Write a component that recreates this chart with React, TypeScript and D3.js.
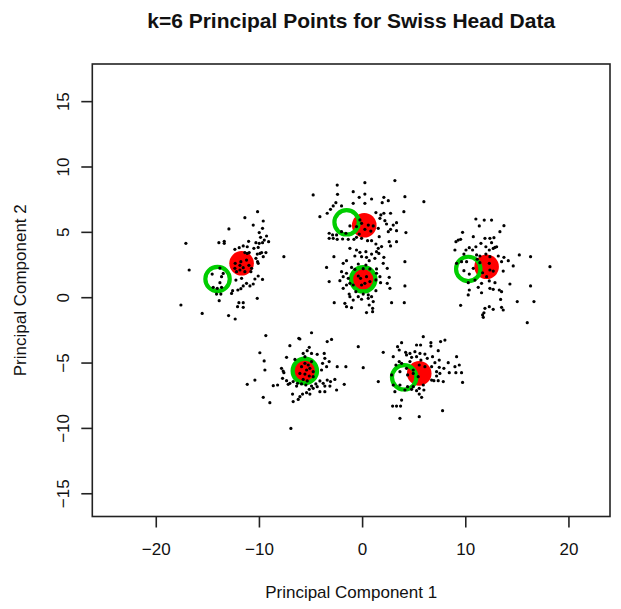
import React from "react";
import * as d3 from "d3";

const title = "k=6 Principal Points for Swiss Head Data";
const xLabel = "Principal Component 1";
const yLabel = "Principal Component 2";
const xTicks = [-20, -10, 0, 10, 20];
const yTicks = [-15, -10, -5, 0, 5, 10, 15];

// principal points (filled red) and comparison points (green rings)
const redX = [-11.73, 0.16, 0.16, 12.02, -5.5, 5.49];
const redY = [2.63, 5.54, 1.35, 2.37, -5.66, -5.79];
const greenX = [-14.06, -1.55, 0.06, 10.24, -5.6, 4.03];
const greenY = [1.43, 5.77, 1.41, 2.2, -5.6, -6.09];

const clusterLeft: [number, number][] = [
  [-10.18,6.58],[-11.41,6.12],[-9.63,5.87],[-10.6,5.56],[-9.7,5.31],[-12.96,5.26],[-10.02,4.98],[-9.31,4.72],[-9.89,4.62],[-9.53,4.41],[-9.11,4.29],[-17.13,4.16],[-13.93,4.21],[-13.41,4.31],[-13.41,4.16],[-11.05,4.31],[-10.34,4.21],[-10.02,4.16],[-9.7,4.21],[-11.57,3.96],[-11.96,3.83],[-11.18,3.9],[-10.12,3.85],[-10.54,3.78],[-12.38,3.7],[-9.79,3.45],[-9.37,3.45],[-11.41,3.45],[-11.18,3.39],[-10.99,3.45],[-10.21,3.34],[-9.95,3.39],[-7.63,3.14],[-9.63,3.14],[-10.34,3.01],[-10.18,2.76],[-11.25,2.88],[-11.8,2.76],[-12.35,2.63],[-11.89,2.48],[-11.57,2.3],[-11.02,2.48],[-10.76,2.25],[-10.12,2.63],[-16.81,2.12],[-13.83,2.27],[-12.38,2.25],[-11.89,2.12],[-12.22,1.99],[-11.41,1.99],[-10.83,1.99],[-13.51,1.86],[-14.58,1.81],[-13.67,1.61],[-11.73,1.48],[-10.12,1.66],[-10.44,1.43],[-9.7,1.4],[-12.28,1.35],[-13.83,1.15],[-10.6,1.05],[-11.25,1.1],[-11.57,0.9],[-10.92,0.9],[-11.8,0.69],[-12.09,0.59],[-12.6,0.54],[-14.48,0.79],[-14.09,0.72],[-13.67,0.79],[-14.16,0.28],[-13.74,0.28],[-12.7,0.33],[-10.21,-0.05],[-13.9,-0.23],[-11.99,-0.38],[-11.57,-0.38],[-12.12,-0.69],[-11.57,-0.74],[-17.61,-0.56],[-15.55,-1.2],[-12.99,-1.37],[-12.35,-1.63]
];

const clusterCenter: [number, number][] = [
  [3.13,8.96],[-2.46,8.62],[0.22,8.8],[-4.79,7.86],[-0.91,8.11],[-2.43,7.91],[0.22,7.93],[-0.33,7.68],[0.87,7.55],[2.06,7.68],[4.1,7.73],[5.94,7.35],[2.49,7.42],[1.9,7.27],[-2.59,7.27],[-0.91,7.22],[0.22,7.22],[-2.85,7.02],[-2.04,7.02],[-3.11,6.76],[-3.43,6.46],[1.29,6.51],[1.77,6.33],[2.06,6.46],[2.71,6.46],[4.0,6.58],[-4.14,6.2],[1.68,6.07],[2.16,5.89],[3.29,5.74],[2.97,5.56],[2.32,5.64],[2.71,5.23],[3.29,5.13],[4.2,4.98],[2.49,5.05],[1.52,5.31],[0.55,5.56],[-0.1,5.69],[-0.59,5.44],[-1.23,5.49],[-3.24,4.93],[-2.91,4.8],[-2.52,4.8],[-2.04,5.05],[-1.62,4.93],[-3.24,4.54],[-2.85,4.54],[-2.46,4.47],[-1.94,4.49],[-1.39,4.47],[-0.84,4.47],[-0.59,4.62],[-0.1,4.54],[0.48,4.36],[0.87,4.36],[1.61,4.67],[2.58,4.29],[3.29,4.29],[1.84,3.91],[1.29,4.11],[1.52,3.78],[2.71,3.96],[-1.23,3.78],[-0.59,3.65],[-0.26,3.47],[0.32,3.52],[1.35,3.52],[0.87,3.34],[1.58,3.39],[-0.75,3.19],[-0.1,3.14],[0.38,3.09],[1.19,3.01],[2.06,3.09],[-2.78,3.14],[-1.56,2.83],[0.64,2.83],[-1.88,2.63],[2.0,2.63],[-0.42,2.58],[0.32,2.5],[-3.49,2.32],[-1.07,2.32],[-0.75,2.17],[0.06,2.22],[0.71,2.2],[1.35,2.2],[2.39,2.25],[4.1,2.76],[-2.04,1.99],[-1.56,1.87],[1.35,1.87],[-1.88,1.61],[-1.39,1.48],[-2.2,1.3],[1.68,1.61],[2.58,1.56],[-3.24,1.23],[1.29,1.36],[-1.23,1.1],[-1.56,0.97],[-0.91,0.97],[1.74,1.15],[2.39,1.1],[-1.88,0.72],[2.65,0.72],[-1.3,0.28],[-0.65,0.46],[1.29,0.54],[4.1,0.9],[-1.23,0.08],[-0.42,0.08],[0.06,0.28],[0.55,0.21],[-0.91,-0.18],[-0.1,-0.12],[0.55,-0.05],[0.87,0.08],[-2.75,-0.38],[-1.72,-0.43],[1.03,-0.3],[2.81,-0.38],[4.04,-0.38],[-1.56,-0.69],[-1.07,-0.76],[0.64,-0.56],[0.97,-0.81],[0.38,-1.14],[0.97,-1.07],[-0.1,0.97],[0.22,1.1],[-0.2,1.48],[0.38,1.61],[-0.42,1.66],[0.71,1.23],[-0.26,5.95],[0.22,5.23],[0.8,5.1],[-0.33,4.87],[1.03,5.49]
];

const clusterRight: [number, number][] = [
  [10.98,6.02],[11.79,5.94],[12.5,5.94],[11.31,5.49],[13.7,5.51],[9.69,5.0],[13.31,5.05],[10.73,4.67],[11.86,4.54],[12.34,4.54],[12.73,4.59],[9.05,4.29],[9.5,4.47],[9.27,4.41],[11.47,4.16],[12.5,4.21],[10.98,3.9],[11.95,3.9],[12.83,3.85],[10.34,3.83],[8.95,3.65],[10.02,3.65],[10.66,3.65],[12.28,3.65],[12.66,3.77],[12.99,3.9],[11.95,3.34],[9.82,3.34],[11.05,3.27],[11.37,3.19],[12.34,3.14],[13.15,3.19],[13.7,3.09],[15.19,3.27],[16.28,3.14],[11.11,2.94],[13.47,2.76],[14.12,2.83],[9.59,2.76],[10.08,2.76],[9.11,2.63],[11.37,2.68],[12.28,2.63],[14.6,2.43],[18.16,2.37],[10.73,2.25],[9.82,2.07],[10.34,1.81],[12.34,2.12],[12.66,2.04],[13.63,2.04],[11.63,1.91],[12.02,1.61],[10.89,1.35],[10.24,1.15],[11.53,1.1],[12.28,1.28],[12.83,1.15],[14.28,1.05],[16.28,0.9],[10.34,0.59],[11.21,0.79],[12.34,0.72],[12.66,0.64],[13.25,0.59],[13.47,0.46],[10.24,0.21],[11.53,0.38],[13.38,-0.13],[14.99,-0.3],[16.61,-0.3],[9.5,-0.58],[11.86,-0.81],[12.28,-0.69],[12.66,-0.89],[13.47,-0.74],[13.63,-0.94],[11.76,-1.15],[11.63,-1.32],[11.7,-1.5],[15.96,-1.91]
];

const clusterLowLeft: [number, number][] = [
  [-9.38,-2.9],[-6.18,-3.11],[-6.08,-3.16],[-4.95,-2.68],[-7.05,-3.67],[-9.96,-4.21],[-5.17,-3.8],[-5.37,-4.05],[-5.76,-4.26],[-4.95,-4.26],[-5.59,-4.51],[-4.4,-4.33],[-3.72,-4.26],[-3.43,-3.36],[-3.01,-3.19],[-0.42,-3.75],[-9.54,-4.84],[-7.37,-4.56],[-6.56,-4.72],[-3.66,-4.64],[-3.24,-4.89],[-3.88,-5.02],[-3.49,-5.28],[-9.47,-5.53],[-7.86,-5.4],[-7.7,-5.61],[-7.63,-5.74],[-5.59,-5.02],[-5.27,-5.15],[-4.95,-4.89],[-5.92,-5.28],[-5.43,-5.53],[-5.11,-5.4],[-4.79,-5.66],[-6.08,-5.79],[-5.59,-5.84],[-5.17,-5.99],[-4.79,-6.04],[-5.76,-6.25],[-5.37,-6.37],[-3.98,-5.53],[-2.46,-5.28],[-1.62,-5.28],[-10.44,-6.3],[-11.18,-6.63],[-7.76,-6.17],[-7.37,-6.35],[-7.05,-6.55],[-6.73,-6.42],[-6.31,-6.55],[-5.92,-6.6],[-5.5,-6.68],[-4.95,-6.76],[-4.53,-6.6],[-4.14,-6.37],[-3.82,-6.55],[-3.43,-6.3],[-3.11,-6.42],[-2.69,-6.25],[-1.78,-6.63],[-8.66,-6.73],[-8.24,-6.68],[-7.21,-6.63],[-6.4,-6.76],[-5.17,-7.01],[-4.79,-6.93],[-4.4,-6.81],[-3.66,-6.76],[-3.17,-6.76],[-4.14,-7.19],[-3.66,-7.19],[-2.52,-7.06],[-6.79,-7.37],[-5.82,-7.37],[-5.43,-7.27],[-5.11,-7.37],[-6.08,-7.57],[-9.63,-7.62],[-6.24,-7.78],[-6.73,-7.95],[-8.99,-8.03],[-6.95,-10.0]
];

const clusterLowRight: [number, number][] = [
  [5.88,-2.98],[3.78,-3.44],[3.39,-3.75],[5.23,-3.62],[5.62,-3.62],[6.62,-3.44],[6.62,-3.7],[7.56,-3.36],[7.98,-3.24],[2.0,-4.18],[3.55,-4.0],[4.17,-4.18],[4.59,-4.26],[5.07,-4.13],[5.56,-4.26],[6.04,-4.31],[7.33,-4.05],[2.97,-4.51],[4.26,-4.38],[4.75,-4.56],[5.23,-4.51],[6.27,-4.64],[6.78,-4.51],[7.43,-4.77],[3.55,-4.89],[4.59,-4.89],[5.65,-4.77],[7.01,-4.97],[8.3,-4.97],[9.11,-4.51],[8.95,-5.28],[9.37,-5.15],[0.06,-5.35],[3.23,-5.15],[3.78,-5.02],[5.49,-5.15],[6.04,-5.28],[6.69,-5.28],[7.43,-5.33],[7.88,-5.4],[4.26,-5.4],[4.91,-5.53],[3.62,-5.66],[7.17,-5.66],[7.49,-5.79],[8.4,-5.74],[9.04,-5.74],[9.59,-5.74],[2.81,-5.91],[4.36,-5.91],[4.91,-5.79],[5.39,-6.04],[7.17,-5.99],[1.52,-6.42],[6.69,-6.3],[6.91,-6.35],[7.33,-6.35],[7.82,-6.42],[9.69,-6.48],[2.97,-6.68],[3.62,-6.68],[4.36,-6.81],[4.91,-6.81],[5.49,-6.93],[5.88,-6.68],[3.13,-7.19],[4.1,-7.06],[4.75,-7.01],[5.23,-7.11],[5.94,-7.06],[5.49,-7.37],[5.72,-7.62],[3.78,-7.83],[2.91,-8.29],[3.29,-8.29],[3.68,-8.29],[7.75,-8.64],[3.62,-9.23],[5.49,-9.1]
];

const W = 621;
const H = 609;
const left = 92.3, right = 610, top = 64, bottom = 516.5;

export default function App() {
  const x = d3.scaleLinear().domain([-26.2, 23.98]).range([left, right]);
  const y = d3.scaleLinear().domain([-16.74, 17.88]).range([bottom, top]);
  const allDots = [...clusterLeft, ...clusterCenter, ...clusterRight, ...clusterLowLeft, ...clusterLowRight];
  const font = "'Liberation Sans', Arial, Helvetica, sans-serif";
  const cx = (left + right) / 2;
  const cy = (top + bottom) / 2;
  return (
    <svg width={W} height={H} style={{ position: "absolute", left: 0, top: 0, background: "#fff" }} fontFamily={font}>
      <rect x={0} y={0} width={W} height={H} fill="#fff" />
      <text x={cx} y={28} textAnchor="middle" fontSize={21} fontWeight="bold" fill="#111">{title}</text>
      {redX.map((v, i) => (
        <circle key={"r" + i} cx={x(v)} cy={y(redY[i])} r={12.3} fill="#ff0000" />
      ))}
      {greenX.map((v, i) => (
        <circle key={"g" + i} cx={x(v)} cy={y(greenY[i])} r={12.2} fill="none" stroke="#00cd00" strokeWidth={4.2} />
      ))}
      {allDots.map((d, i) => (
        <circle key={"d" + i} cx={x(d[0])} cy={y(d[1])} r={1.6} fill="#000" />
      ))}
      <rect x={left} y={top} width={right - left} height={bottom - top} fill="none" stroke="#222" strokeWidth={1.6} />
      {xTicks.map((t) => (
        <g key={"xt" + t}>
          <line x1={x(t)} x2={x(t)} y1={bottom} y2={bottom + 11} stroke="#222" strokeWidth={1.6} />
          <text x={x(t)} y={555} textAnchor="middle" fontSize={17} fill="#111">{t < 0 ? "\u2212" + Math.abs(t) : String(t)}</text>
        </g>
      ))}
      {yTicks.map((t) => (
        <g key={"yt" + t}>
          <line x1={left - 11} x2={left} y1={y(t)} y2={y(t)} stroke="#222" strokeWidth={1.6} />
          <text transform={`translate(68.5,${y(t)}) rotate(-90)`} textAnchor="middle" fontSize={17} fill="#111">{t < 0 ? "\u2212" + Math.abs(t) : String(t)}</text>
        </g>
      ))}
      <text x={cx} y={598} textAnchor="middle" fontSize={17} fill="#111">{xLabel}</text>
      <text transform={`translate(26,${cy}) rotate(-90)`} textAnchor="middle" fontSize={17} fill="#111">{yLabel}</text>
    </svg>
  );
}
